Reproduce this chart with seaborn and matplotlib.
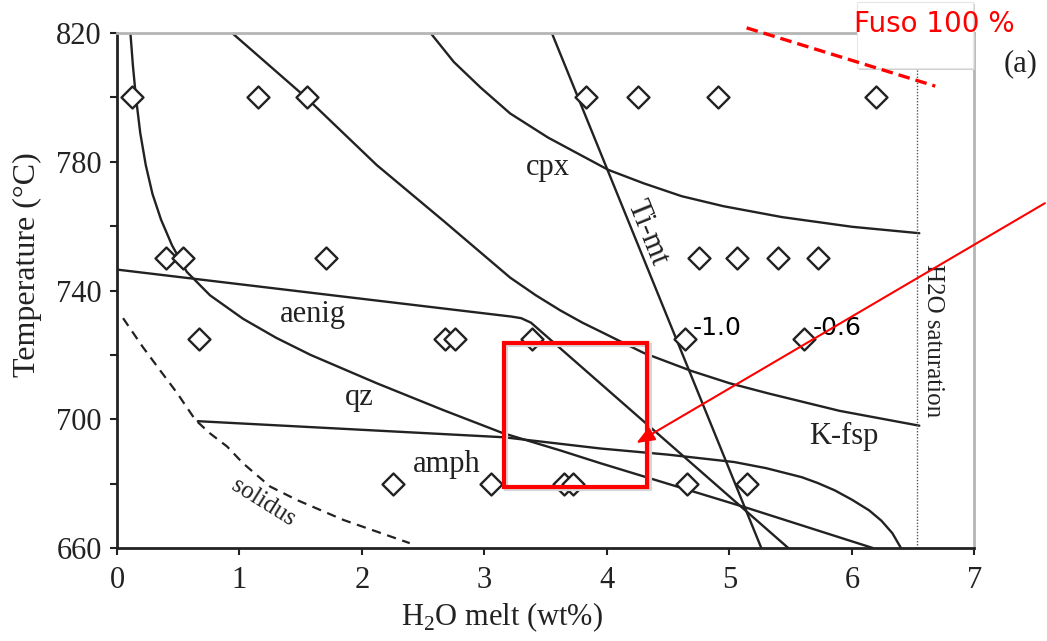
import numpy as np
import pandas as pd
import matplotlib
matplotlib.use("Agg")
import matplotlib.pyplot as plt
import seaborn as sns
from matplotlib.patches import Rectangle

# ---------------- data ----------------
# experimental runs (open diamonds)
run_x = [0.12, 1.15, 1.55, 3.83, 4.25, 4.91, 6.20,
         0.40, 0.54, 1.71, 4.75, 5.06, 5.40, 5.72,
         0.67, 2.68, 2.76, 3.39, 4.64, 5.61,
         2.25, 3.05, 3.65, 3.72, 4.65, 5.14]
run_t = [800, 800, 800, 800, 800, 800, 800,
         750, 750, 750, 750, 750, 750, 750,
         725, 725, 725, 725, 725, 725,
         680, 680, 680, 680, 680, 680]

# phase boundaries
qz_x = [0.11, 0.13, 0.155, 0.19, 0.235, 0.29, 0.36, 0.45, 0.57, 0.76, 1.03, 1.30, 1.58,
        2.12, 2.66, 3.15, 3.62, 3.95, 5.14, 6.17]
qz_t = [820, 810, 800, 789, 779, 770, 762, 754, 745.8, 738.5, 731.2, 725.3, 720,
        711.2, 702.9, 695.7, 690.3, 686.3, 672.5, 660]

timt_x = [3.55, 5.26]
timt_t = [820, 660]

aenig_x = [0.0, 1.85, 3.22, 3.30, 3.38, 5.48]
aenig_t = [746.5, 738.1, 731.9, 731.4, 730.0, 660]

cpx_x = [2.56, 2.75, 2.97, 3.21, 3.52, 4.01, 4.30, 4.61, 4.95, 5.43, 6.0, 6.55]
cpx_t = [820, 811, 803, 795, 787.5, 777.5, 773.3, 769.3, 766.2, 762.8, 759.8, 757.8]

kfsp_x = [0.94, 1.56, 2.12, 2.67, 3.0, 3.21, 3.42, 3.62, 3.8, 3.95, 4.3, 4.69, 5.0, 5.32, 5.9, 6.55]
kfsp_t = [820, 799.4, 779, 761.5, 750.8, 744, 738.5, 733.8, 730, 727.2, 720.6, 715, 711.2, 708, 702.6, 698]

amph_x = [0.66, 3.16, 3.95, 4.5, 5.04, 5.3, 5.59, 5.72, 5.86, 6.0, 6.14, 6.24, 6.33, 6.40]
amph_t = [699.4, 694.4, 690.9, 689, 686.7, 684.8, 682, 680.2, 677.9, 675, 671.7, 668.5, 664.6, 660]

solidus_x = [0.05, 0.21, 0.35, 0.49, 0.64, 0.76, 0.90, 1.03, 1.25, 1.47, 1.85, 2.39]
solidus_t = [731.4, 722.5, 715.3, 708.2, 699.8, 695.6, 691.5, 686.3, 679.1, 674.9, 668.7, 661.5]

sat_x = [6.53, 6.53]
sat_t = [660, 820]

melt100_x = [5.14, 6.68]
melt100_t = [821.6, 803.5]

box_x = [3.16, 4.33]
box_t = [679.0, 723.7]
arrow_tip = (4.24, 692.6)

x_ticks = [0, 1, 2, 3, 4, 5, 6, 7]
y_ticks = [660, 700, 740, 780, 820]
y_minor = [680, 720, 760, 800]

# ---------------- figure ----------------
sns.set_style("ticks")
plt.rcParams['font.family'] = ['Liberation Serif', 'DejaVu Serif']
plt.rcParams['mathtext.fontset'] = 'custom'
plt.rcParams['mathtext.rm'] = 'Liberation Serif'

fig = plt.figure(figsize=(10.47, 6.41), dpi=100)
fig.patch.set_facecolor('white')
ax = fig.add_axes([0.1117, 0.1451, 0.819, 0.8034])

ink = '#222222'
lw = 1.7

def curve(xs, ts, **kw):
    df = pd.DataFrame({'x': xs, 'T': ts})
    sns.lineplot(data=df, x='x', y='T', sort=False, estimator=None, ax=ax,
                 color=kw.pop('color', ink), lw=kw.pop('lw', lw), **kw)

curve(qz_x, qz_t)
curve(timt_x, timt_t)
curve(aenig_x, aenig_t)
curve(cpx_x, cpx_t)
curve(kfsp_x, kfsp_t)
curve(amph_x, amph_t)
curve(solidus_x, solidus_t, linestyle=(0, (4.2, 3.0)), lw=1.6)
curve(sat_x, sat_t, linestyle=(0, (1, 1.2)), lw=1.0, color='#555555')

runs = pd.DataFrame({'x': run_x, 'T': run_t})
sns.scatterplot(data=runs, x='x', y='T', marker='D', s=125, facecolor='white',
                edgecolor=ink, linewidth=1.7, ax=ax, zorder=4)

ax.set_xlim(0, 7)
ax.set_ylim(660, 820)
ax.set_xticks(x_ticks)
ax.set_yticks(y_ticks)
ax.set_yticks(y_minor, minor=True)
ax.tick_params(axis='both', which='both', direction='out', length=5, width=1.5,
               colors=ink, labelsize=22, labelcolor=ink)
ax.tick_params(axis='x', pad=8)
ax.tick_params(axis='y', pad=6)

for s in ['left', 'bottom']:
    ax.spines[s].set_color(ink)
    ax.spines[s].set_linewidth(2)
for s in ['top', 'right']:
    ax.spines[s].set_color('#b5b5b5')
    ax.spines[s].set_linewidth(2)

ax.set_xlabel('H$_2$O melt (wt%)', fontsize=22, color=ink, va='center')
ax.set_ylabel('Temperature (°C)', fontsize=23, color=ink, va='center')
ax.xaxis.set_label_coords(0.449, -0.134)
ax.yaxis.set_label_coords(-0.104, 0.55)

# field labels
lab = dict(fontsize=22, color=ink, ha='center', va='center')
ax.text(3.52, 778.1, 'cpx', **lab)
ax.text(1.60, 732.4, 'aenig', **lab)
ax.text(1.98, 706.9, 'qz', **lab)
ax.text(2.69, 685.8, 'amph', **lab)
ax.text(5.93, 694.5, 'K-fsp', **lab)
ax.text(4.33, 757.9, 'Ti-mt', fontsize=22, color=ink, ha='center', va='center', rotation=-68)
ax.text(1.19, 674.0, 'solidus', fontsize=18, color=ink, ha='center', va='center', rotation=-32)
ax.text(6.66, 724.3, 'H2O saturation', fontsize=18, color=ink, ha='center', va='center', rotation=-90)

# added annotations
ax.text(4.70, 728.4, '-1.0', fontsize=18, family='DejaVu Sans', color='black', ha='left', va='center', zorder=6)
ax.text(5.68, 728.4, '-0.6', fontsize=18, family='DejaVu Sans', color='black', ha='left', va='center', zorder=6)

# white callout box with shadow
shadow = Rectangle((0.8205, 0.8905), 0.111, 0.103, transform=fig.transFigure,
                   facecolor='#cfcfcf', edgecolor='none', zorder=9, clip_on=False)
ax.add_patch(shadow)
wbox = Rectangle((0.8185, 0.8939), 0.111, 0.103, transform=fig.transFigure,
                 facecolor='white', edgecolor='#e6e6e6', lw=0.8, zorder=10, clip_on=False)
ax.add_patch(wbox)
ax.text(0.892, 0.9626, 'Fuso 100 %', transform=fig.transFigure, fontsize=20,
        family='DejaVu Sans', color='red', ha='center', va='center', zorder=12, clip_on=False)

# red dashed 100 % melt line
m = pd.DataFrame({'x': melt100_x, 'T': melt100_t})
sns.lineplot(data=m, x='x', y='T', sort=False, estimator=None, ax=ax, color='red',
             lw=2.4, linestyle=(0, (3.5, 1.8)), zorder=11, clip_on=False)

# red highlight rectangle
ax.add_patch(Rectangle((box_x[0] + 0.02, box_t[0] - 0.6), box_x[1] - box_x[0], box_t[1] - box_t[0],
                       facecolor='none', edgecolor='#d8d8d8', lw=3, zorder=6))
ax.add_patch(Rectangle((box_x[0], box_t[0]), box_x[1] - box_x[0], box_t[1] - box_t[0],
                       facecolor='none', edgecolor='red', lw=3, zorder=7))

# red arrow
ax.annotate('', xy=arrow_tip, xycoords='data', xytext=(0.998, 0.683),
            textcoords='figure fraction', annotation_clip=False,
            arrowprops=dict(arrowstyle='-|>,head_length=1.0,head_width=0.4', color='red',
                            lw=1.5, mutation_scale=11, shrinkA=0, shrinkB=0), zorder=8)

fig.text(0.975, 0.900, '(a)', fontsize=22, color=ink, ha='center', va='center')

if ax.get_legend() is not None:
    ax.get_legend().remove()

fig.savefig('out.png', dpi=100, facecolor='white')
